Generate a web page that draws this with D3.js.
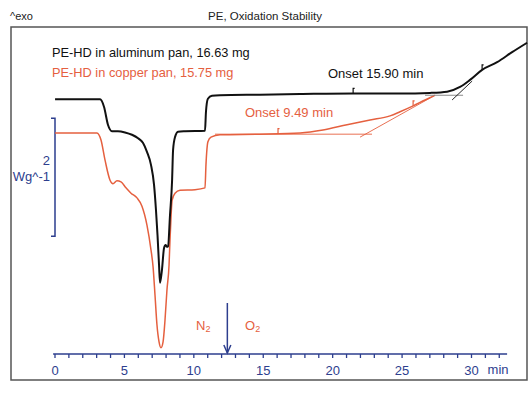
<!DOCTYPE html>
<html>
<head>
<meta charset="utf-8">
<script src="https://cdn.jsdelivr.net/npm/d3@7"></script>
<style>
  body { margin: 0; background: #fff; }
  text { font-family: "Liberation Sans", Arial, sans-serif; }
</style>
</head>
<body>
<div id="chart"></div>
<script>
// time in min, heat flow in W/g (offset so copper baseline = 0)
var alTime = [0.04, 3.28, 3.57, 3.85, 4.14, 4.57, 5.08, 5.58, 6.02, 6.38, 6.66, 6.95, 7.17, 7.31, 7.42, 7.53, 7.60, 7.74, 7.89, 8.00, 8.10, 8.18, 8.32, 8.47, 8.54, 8.68, 8.90, 9.40, 10.84, 10.91, 11.05, 11.34, 11.92, 14.80, 17.69, 21.51, 24.89, 27.05, 28.28, 29.21, 29.93, 30.80, 31.88, 32.96, 34.04];
var alFlow = [0.57, 0.57, 0.44, 0.14, 0.03, 0.03, 0.01, -0.03, -0.09, -0.17, -0.32, -0.54, -0.88, -1.31, -1.73, -2.24, -2.54, -2.32, -1.95, -1.90, -1.93, -1.92, -1.39, -0.80, -0.29, -0.07, 0.02, 0.03, 0.04, 0.36, 0.58, 0.63, 0.64, 0.65, 0.66, 0.67, 0.67, 0.68, 0.70, 0.78, 0.90, 1.07, 1.20, 1.37, 1.53];

var cuTime = [0.04, 3.06, 3.35, 3.64, 4.00, 4.21, 4.50, 4.79, 5.15, 5.51, 5.94, 6.30, 6.66, 6.95, 7.10, 7.24, 7.38, 7.53, 7.67, 7.82, 7.96, 8.10, 8.25, 8.32, 8.40, 8.47, 8.68, 9.04, 10.12, 10.84, 10.91, 11.05, 11.27, 11.92, 14.80, 17.69, 19.34, 21.07, 22.73, 24.17, 24.89, 25.83, 26.69, 27.41];
var cuFlow = [0, 0, -0.12, -0.46, -0.80, -0.86, -0.81, -0.83, -0.93, -1.02, -1.10, -1.24, -1.56, -1.98, -2.27, -2.75, -3.25, -3.54, -3.64, -3.54, -3.17, -2.66, -2.24, -1.81, -1.39, -1.14, -1.02, -0.97, -0.96, -0.93, -0.54, -0.15, -0.07, -0.03, -0.02, 0, 0.05, 0.14, 0.22, 0.29, 0.36, 0.46, 0.56, 0.64];

// onset construction lines [t1, v1, t2, v2]
var cuBaseline = [11.56, -0.02, 22.87, -0.02];
var cuTangent = [22.01, -0.07, 27.41, 0.64];
var alBaseline = [26.69, 0.64, 29.43, 0.64];
var alTangent = [28.64, 0.56, 30.08, 0.88];

// little marks on the curves [time, flow]
var alMarks = [[21.51, 0.67], [30.80, 1.07]];
var cuMarks = [[16.10, -0.01], [25.83, 0.46]];

var tickValues = d3.range(0, 33);
var gasSwitch = 12.45;

var width = 532, height = 393;
var black = '#111', red = '#e5603f', blue = '#2d3e8e';

var svg = d3.select('#chart').append('svg')
  .attr('width', width).attr('height', height);

var x = d3.scaleLinear().domain([0, 30]).range([54.5, 471]);
var y = d3.scaleLinear().domain([-4, 2]).range([369, 15]);

// frame
svg.append('rect')
  .attr('x', 11).attr('y', 27).attr('width', 516).attr('height', 353)
  .attr('fill', 'none').attr('stroke', '#555').attr('stroke-width', 1.5);

svg.append('text').attr('x', 10).attr('y', 20).attr('font-size', 11).attr('fill', '#222').text('^exo');
svg.append('text').attr('x', 265).attr('y', 20).attr('text-anchor', 'middle')
  .attr('font-size', 11.5).attr('fill', '#222').text('PE, Oxidation Stability');

// legend
svg.append('text').attr('x', 52).attr('y', 57).attr('font-size', 12.8).attr('fill', black)
  .text('PE-HD in aluminum pan, 16.63 mg');
svg.append('text').attr('x', 52).attr('y', 77).attr('font-size', 12.8).attr('fill', red)
  .text('PE-HD in copper pan, 15.75 mg');

// x axis
var axisY = 354;
var axis = d3.axisBottom(x)
  .tickValues(tickValues)
  .tickSize(4)
  .tickPadding(8)
  .tickFormat(function(d) { return d % 5 === 0 ? d : ''; });
var gx = svg.append('g').attr('transform', 'translate(0,' + axisY + ')').call(axis);
gx.select('.domain').remove();
gx.selectAll('.tick line').attr('stroke', blue).attr('stroke-width', 1.3);
gx.selectAll('.tick text').attr('fill', blue).attr('font-size', 13)
  .style('font-family', '"Liberation Sans", Arial, sans-serif');
gx.append('line').attr('x1', x(-0.1)).attr('x2', x(32.6)).attr('y1', 0).attr('y2', 0)
  .attr('stroke', blue).attr('stroke-width', 1.5);
svg.append('text').attr('x', x(31.95)).attr('y', axisY + 20).attr('text-anchor', 'middle')
  .attr('font-size', 13).attr('fill', blue).text('min');

// scale bar
var bar = svg.append('g').attr('stroke', blue).attr('stroke-width', 1.5).attr('fill', 'none');
bar.append('path').attr('d', 'M51,' + y(0.25) + 'H55V' + y(-1.75) + 'H51');
svg.append('text').attr('x', 50).attr('y', 165).attr('text-anchor', 'end')
  .attr('font-size', 13).attr('fill', blue).text('2');
svg.append('text').attr('x', 50).attr('y', 181).attr('text-anchor', 'end')
  .attr('font-size', 13).attr('fill', blue).text('Wg^-1');

// gas switch arrow
svg.append('line').attr('x1', x(gasSwitch)).attr('x2', x(gasSwitch)).attr('y1', 303).attr('y2', axisY - 1)
  .attr('stroke', blue).attr('stroke-width', 1.5);
svg.append('path')
  .attr('d', 'M' + (x(gasSwitch) - 3.5) + ',' + (axisY - 9) + 'L' + x(gasSwitch) + ',' + (axisY - 1) + 'L' + (x(gasSwitch) + 3.5) + ',' + (axisY - 9))
  .attr('fill', 'none').attr('stroke', blue).attr('stroke-width', 1.5);

var n2 = svg.append('text').attr('x', 196).attr('y', 330).attr('font-size', 13).attr('fill', red);
n2.append('tspan').text('N');
n2.append('tspan').attr('font-size', 9).attr('dy', 2).text('2');
var o2 = svg.append('text').attr('x', 245).attr('y', 330).attr('font-size', 13).attr('fill', red);
o2.append('tspan').text('O');
o2.append('tspan').attr('font-size', 9).attr('dy', 2).text('2');

// curves
var line = d3.line()
  .x(function(d) { return x(d[0]); })
  .y(function(d) { return y(d[1]); })
  .curve(d3.curveMonotoneX);

var cuData = d3.zip(cuTime, cuFlow);
var alData = d3.zip(alTime, alFlow);

function seg(s, color, w) {
  svg.append('line')
    .attr('x1', x(s[0])).attr('y1', y(s[1])).attr('x2', x(s[2])).attr('y2', y(s[3]))
    .attr('stroke', color).attr('stroke-width', w);
}
seg(cuBaseline, red, 0.9);
seg(cuTangent, red, 0.9);

svg.append('path').datum(cuData).attr('d', line)
  .attr('fill', 'none').attr('stroke', red).attr('stroke-width', 1.5);

seg(alBaseline, '#888', 1.2);
seg(alTangent, black, 0.9);

svg.append('path').datum(alData).attr('d', line)
  .attr('fill', 'none').attr('stroke', black).attr('stroke-width', 2);

function marks(list, color) {
  list.forEach(function(m) {
    var px = x(m[0]), py = y(m[1]);
    svg.append('path').attr('d', 'M' + px + ',' + py + 'V' + (py - 5) + 'h1.5')
      .attr('fill', 'none').attr('stroke', color).attr('stroke-width', 1.2);
  });
}
marks(alMarks, black);
marks(cuMarks, red);

svg.append('text').attr('x', 328).attr('y', 78).attr('font-size', 13).attr('fill', black).text('Onset 15.90 min');
svg.append('text').attr('x', 245).attr('y', 117).attr('font-size', 13).attr('fill', red).text('Onset 9.49 min');
</script>
</body>
</html>
